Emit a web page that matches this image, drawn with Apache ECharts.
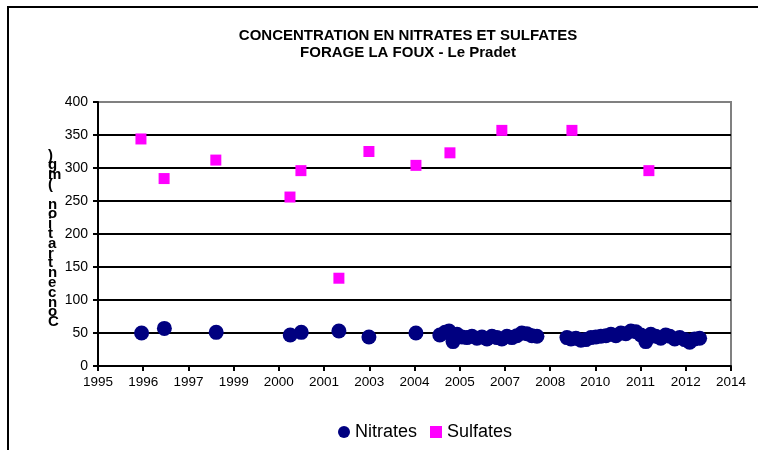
<!DOCTYPE html>
<html>
<head>
<meta charset="utf-8">
<script src="https://cdn.jsdelivr.net/npm/echarts@6/dist/echarts.min.js"></script>
<style>
  html, body { margin: 0; padding: 0; background: #fff; }
  #chart { width: 758px; height: 450px; }
</style>
</head>
<body>
<div id="chart"></div>
<script>
// Sampling dates and measured concentrations (mg/l)
const nitrateDates = [
  '1996-04-27', '1997-01-04', '1998-07-31', '2000-10-27', '2001-02-26', '2002-04-18', '2003-03-16', '2004-08-17',
  '2005-05-08', '2005-07-05', '2005-08-18', '2005-10-01', '2005-11-14', '2006-01-08', '2006-03-04', '2006-04-28',
  '2006-06-22', '2006-08-17', '2006-10-11', '2006-12-05', '2007-01-30', '2007-03-25', '2007-05-20', '2007-07-14',
  '2007-09-07', '2007-11-01', '2007-12-26', '2008-02-20', '2008-04-16',
  '2009-03-14', '2009-04-27', '2009-06-21', '2009-08-15', '2009-10-09', '2009-12-04', '2010-01-28', '2010-03-24',
  '2010-05-19', '2010-07-13', '2010-09-06', '2010-10-31', '2010-12-25', '2011-02-19', '2011-04-15', '2011-06-09',
  '2011-08-03', '2011-09-27', '2011-11-21', '2012-01-15', '2012-03-10', '2012-04-24', '2012-06-18', '2012-08-12',
  '2012-10-06', '2012-11-30', '2013-01-24', '2013-03-20'
];
const nitrateValues = [
  50, 57, 51, 47, 51, 53, 44, 50,
  47, 51, 53, 37, 48, 44, 43, 45,
  42, 44, 41, 45, 43, 41, 45, 43,
  46, 50, 49, 46, 45,
  43, 41, 42, 39, 40, 43, 44, 45,
  46, 48, 46, 50, 49, 53, 52, 47,
  37, 48, 45, 42, 47, 45, 41, 43,
  40, 36, 41, 42
];
const sulfateDates = [
  '1996-04-20', '1997-01-01', '1998-07-27', '2000-10-24', '2001-02-22', '2002-04-18',
  '2003-03-16', '2004-08-17', '2005-08-28', '2007-03-25', '2009-05-08', '2011-09-06'
];
const sulfateValues = [344, 284, 312, 256, 296, 133, 325, 304, 323, 357, 357, 296];

// Axis settings: dates counted in days from the origin, one tick every 500 days
const axisOrigin = Date.UTC(1995, 0, 1);
const xMin = 0, xMax = 7000, xStep = 500;
const yMin = 0, yMax = 400, yStep = 50;

const DAY = 86400000;
function dayOffset(s) {
  const p = s.split('-').map(Number);
  return (Date.UTC(p[0], p[1] - 1, p[2]) - axisOrigin) / DAY;
}
function pairs(dates, values) {
  return dates.map((d, i) => [dayOffset(d), values[i]]);
}

const yTitle = 'Concentration (mg)';
const stacked = yTitle.split('').reverse().join('\n');
const FONT = 'Liberation Sans, Arial, sans-serif';

const chart = echarts.init(document.getElementById('chart'), null, { renderer: 'canvas' });
chart.setOption({
  backgroundColor: '#ffffff',
  animation: false,
  title: {
    text: 'CONCENTRATION EN NITRATES ET SULFATES\nFORAGE LA FOUX - Le Pradet',
    left: 403,
    top: 22,
    textAlign: 'center',
    textStyle: {
      fontFamily: FONT,
      fontSize: 15,
      fontWeight: 'bold',
      color: '#000',
      lineHeight: 17
    }
  },
  grid: {
    left: 98, right: 27, top: 102, bottom: 84,
    show: true,
    borderColor: '#808080',
    borderWidth: 2,
    backgroundColor: '#ffffff'
  },
  legend: {
    bottom: 4,
    left: 333,
    itemGap: 13,
    itemWidth: 12,
    itemHeight: 12,
    textStyle: {
      fontFamily: FONT,
      fontSize: 18,
      color: '#000'
    },
    data: [
      { name: 'Nitrates', icon: 'circle' },
      { name: 'Sulfates', icon: 'rect', itemStyle: { color: '#ff00ff' } }
    ]
  },
  xAxis: {
    type: 'value',
    min: xMin, max: xMax, interval: xStep,
    axisLine: { show: true, onZero: false, lineStyle: { color: '#000', width: 2 } },
    axisTick: { show: true, inside: false, length: 5, lineStyle: { color: '#000', width: 2 } },
    splitLine: { show: false },
    axisLabel: {
      margin: 9,
      fontFamily: FONT,
      fontSize: 13.5,
      color: '#000',
      formatter: v => new Date(axisOrigin + v * DAY).getUTCFullYear()
    }
  },
  yAxis: {
    type: 'value',
    min: yMin, max: yMax, interval: yStep,
    axisLine: { show: true, lineStyle: { color: '#000', width: 2 } },
    axisTick: { show: true, inside: false, length: 5, lineStyle: { color: '#000', width: 2 } },
    splitLine: { show: true, showMinLine: false, showMaxLine: false, lineStyle: { color: '#000', width: 2 } },
    axisLabel: {
      margin: 10,
      fontFamily: FONT,
      fontSize: 14,
      color: '#000'
    }
  },
  series: [
    {
      name: 'Nitrates',
      type: 'scatter',
      symbol: 'circle',
      symbolSize: 15,
      itemStyle: { color: '#000080', opacity: 1 },
      data: pairs(nitrateDates, nitrateValues),
      z: 3
    },
    {
      name: 'Sulfates',
      type: 'scatter',
      symbol: 'rect',
      symbolSize: 11,
      itemStyle: { color: '#ff00ff', opacity: 1 },
      data: pairs(sulfateDates, sulfateValues),
      z: 3
    }
  ],
  graphic: [
    // outer frame (top and left edges)
    { type: 'line', shape: { x1: 7, y1: 7, x2: 758, y2: 7 }, style: { stroke: '#000', lineWidth: 2 } },
    { type: 'line', shape: { x1: 8, y1: 7, x2: 8, y2: 450 }, style: { stroke: '#000', lineWidth: 2 } },
    // vertical axis title, letters stacked
    {
      type: 'text',
      left: 48,
      top: 148,
      style: {
        text: stacked,
        fontFamily: FONT,
        fontSize: 15,
        fontWeight: 'bold',
        lineHeight: 9.8,
        fill: '#000',
        align: 'center'
      }
    }
  ]
});
</script>
</body>
</html>
